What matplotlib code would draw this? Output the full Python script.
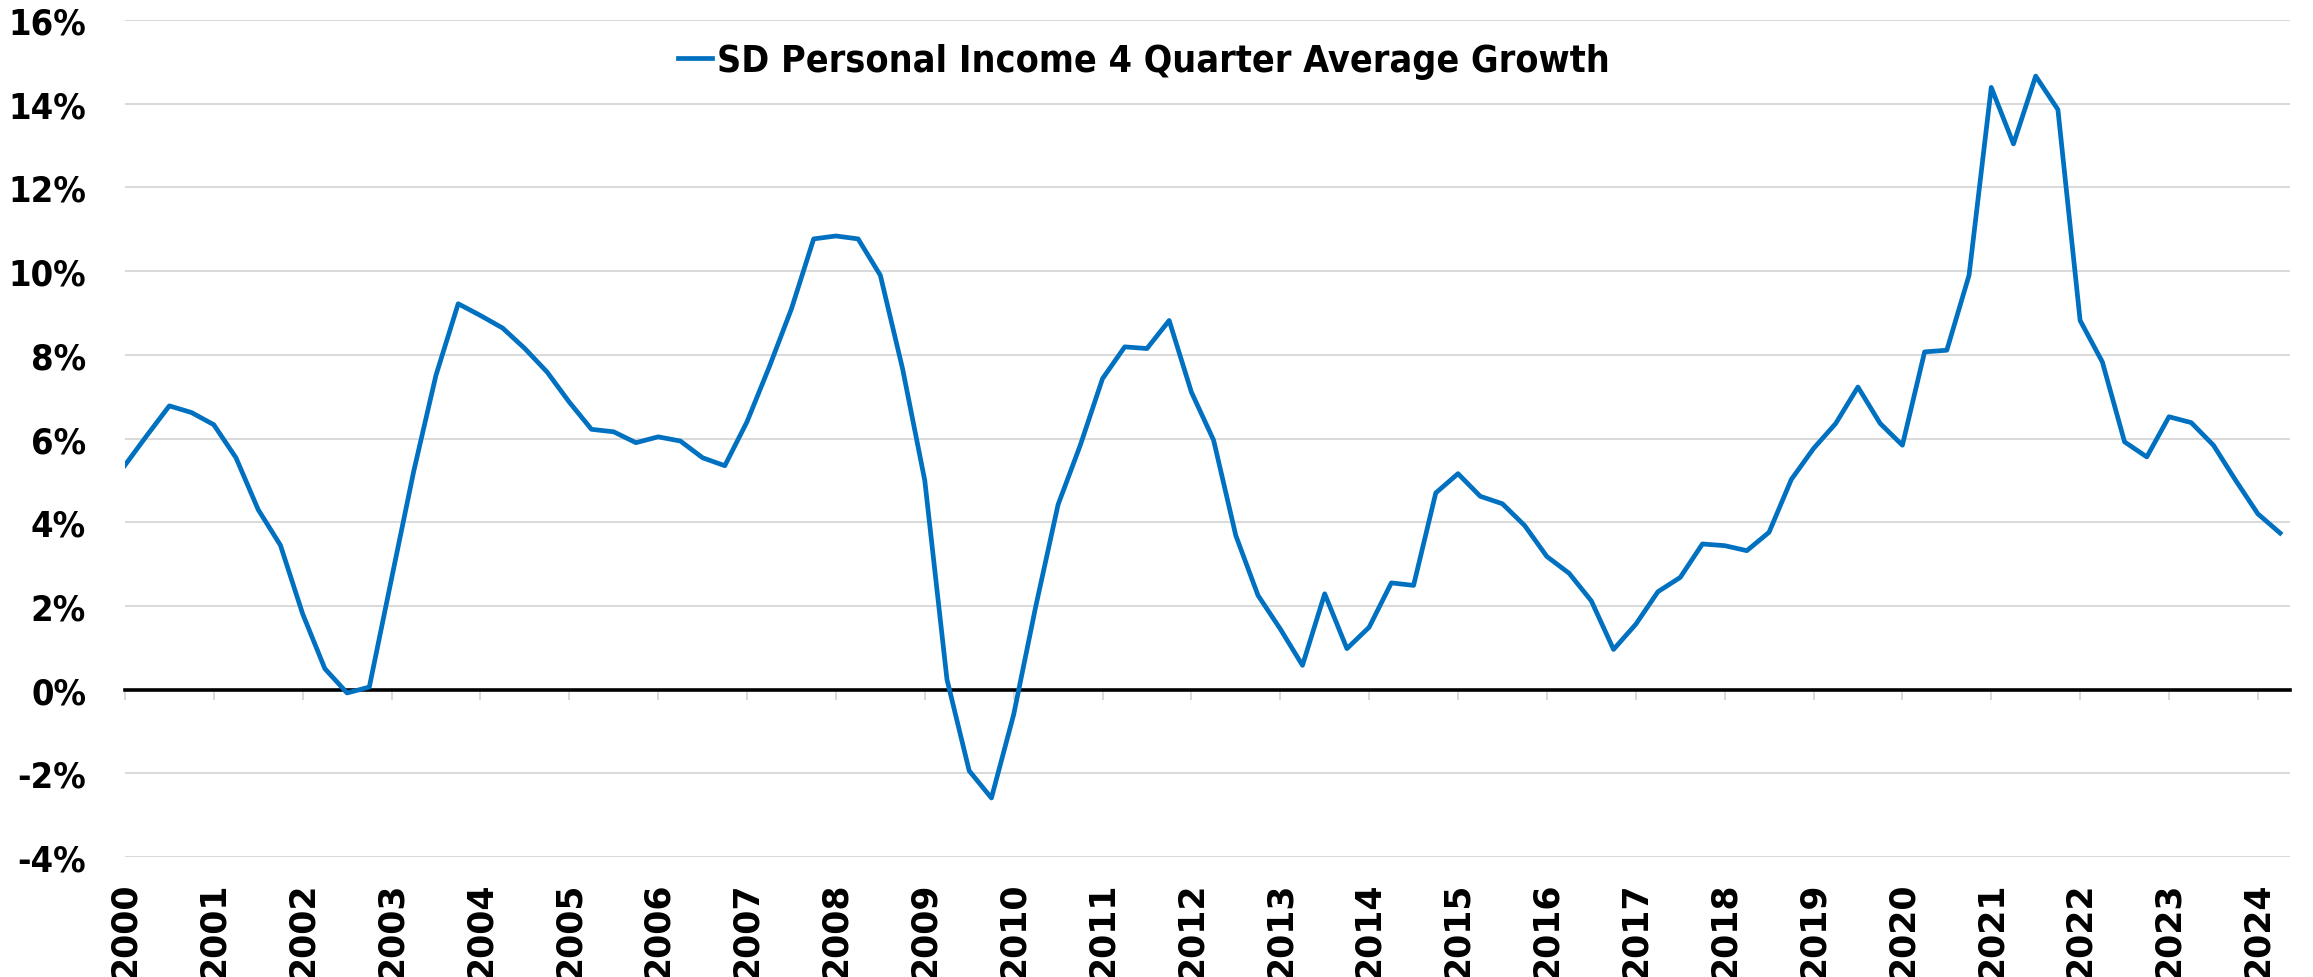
import numpy as np
import matplotlib
matplotlib.use('Agg')
import matplotlib.pyplot as plt
from matplotlib.ticker import FuncFormatter

# SD personal income, 4 quarter average growth (%), quarterly from 2000Q1
start_year = 2000
growth = [
    5.36, 6.08, 6.78, 6.62, 6.33, 5.54, 4.30, 3.45, 1.81, 0.50, -0.08, 0.06,
    2.65, 5.22, 7.51, 9.22, 8.94, 8.64, 8.15, 7.59, 6.87, 6.22, 6.16, 5.90,
    6.04, 5.94, 5.54, 5.35, 6.40, 7.71, 9.10, 10.77, 10.84, 10.77, 9.90, 7.67,
    5.00, 0.24, -1.94, -2.59, -0.60, 2.00, 4.42, 5.84, 7.43, 8.19, 8.15, 8.82,
    7.11, 5.96, 3.68, 2.25, 1.45, 0.58, 2.29, 0.98, 1.49, 2.55, 2.49, 4.70,
    5.16, 4.62, 4.44, 3.92, 3.18, 2.78, 2.12, 0.96, 1.56, 2.34, 2.68, 3.48,
    3.44, 3.32, 3.76, 5.02, 5.76, 6.36, 7.23, 6.36, 5.84, 8.07, 8.11, 9.90,
    14.39, 13.04, 14.66, 13.86, 8.82, 7.83, 5.92, 5.56, 6.52, 6.38, 5.84, 5.00,
    4.20, 3.74,
]
year_ticks = list(range(2000, 2025))
y_ticks = [-4, -2, 0, 2, 4, 6, 8, 10, 12, 14, 16]
series_label = 'SD Personal Income 4 Quarter Average Growth'

x = start_year + np.arange(len(growth)) / 4.0

fig = plt.figure(figsize=(23.13, 9.78), dpi=100)
ax = fig.add_axes([0.054, 0.1227, 0.936, 0.8558])

ax.set_ylim(-4, 16)
ax.set_xlim(2000, 2024.36)
ax.set_yticks(y_ticks)
ax.yaxis.set_major_formatter(FuncFormatter(lambda v, p: f'{v:.0f}%'))
ax.grid(axis='y', color='#D9D9D9', linewidth=1.4)
ax.set_axisbelow(True)

for side in ['left', 'right', 'top']:
    ax.spines[side].set_visible(False)
ax.spines['bottom'].set_position(('data', 0))
ax.spines['bottom'].set_color('black')
ax.spines['bottom'].set_linewidth(2.6)
ax.spines['bottom'].set_zorder(3)

ax.plot(x, growth, color='#0070C0', linewidth=3.4, label=series_label, zorder=4)

ax.set_xticks(year_ticks)
ax.set_xticklabels([str(y) for y in year_ticks], rotation=90, fontsize=25,
                   fontweight='bold', family='DejaVu Sans')
ax.tick_params(axis='x', direction='out', length=7, width=1.4, color='#D9D9D9', pad=131)
ax.tick_params(axis='y', length=0, pad=28)
for lbl in ax.get_yticklabels():
    lbl.set_fontsize(26)
    lbl.set_fontweight('bold')
    lbl.set_family('DejaVu Sans')
    lbl.set_fontstretch('condensed')

leg = ax.legend(loc='center', bbox_to_anchor=(0.4707, 0.951), frameon=False,
                prop={'family': 'DejaVu Sans', 'weight': 'bold', 'size': 27,
                      'stretch': 'condensed'},
                handlelength=0.9, handletextpad=0.15)

fig.savefig('out.png', dpi=100, facecolor='white')
